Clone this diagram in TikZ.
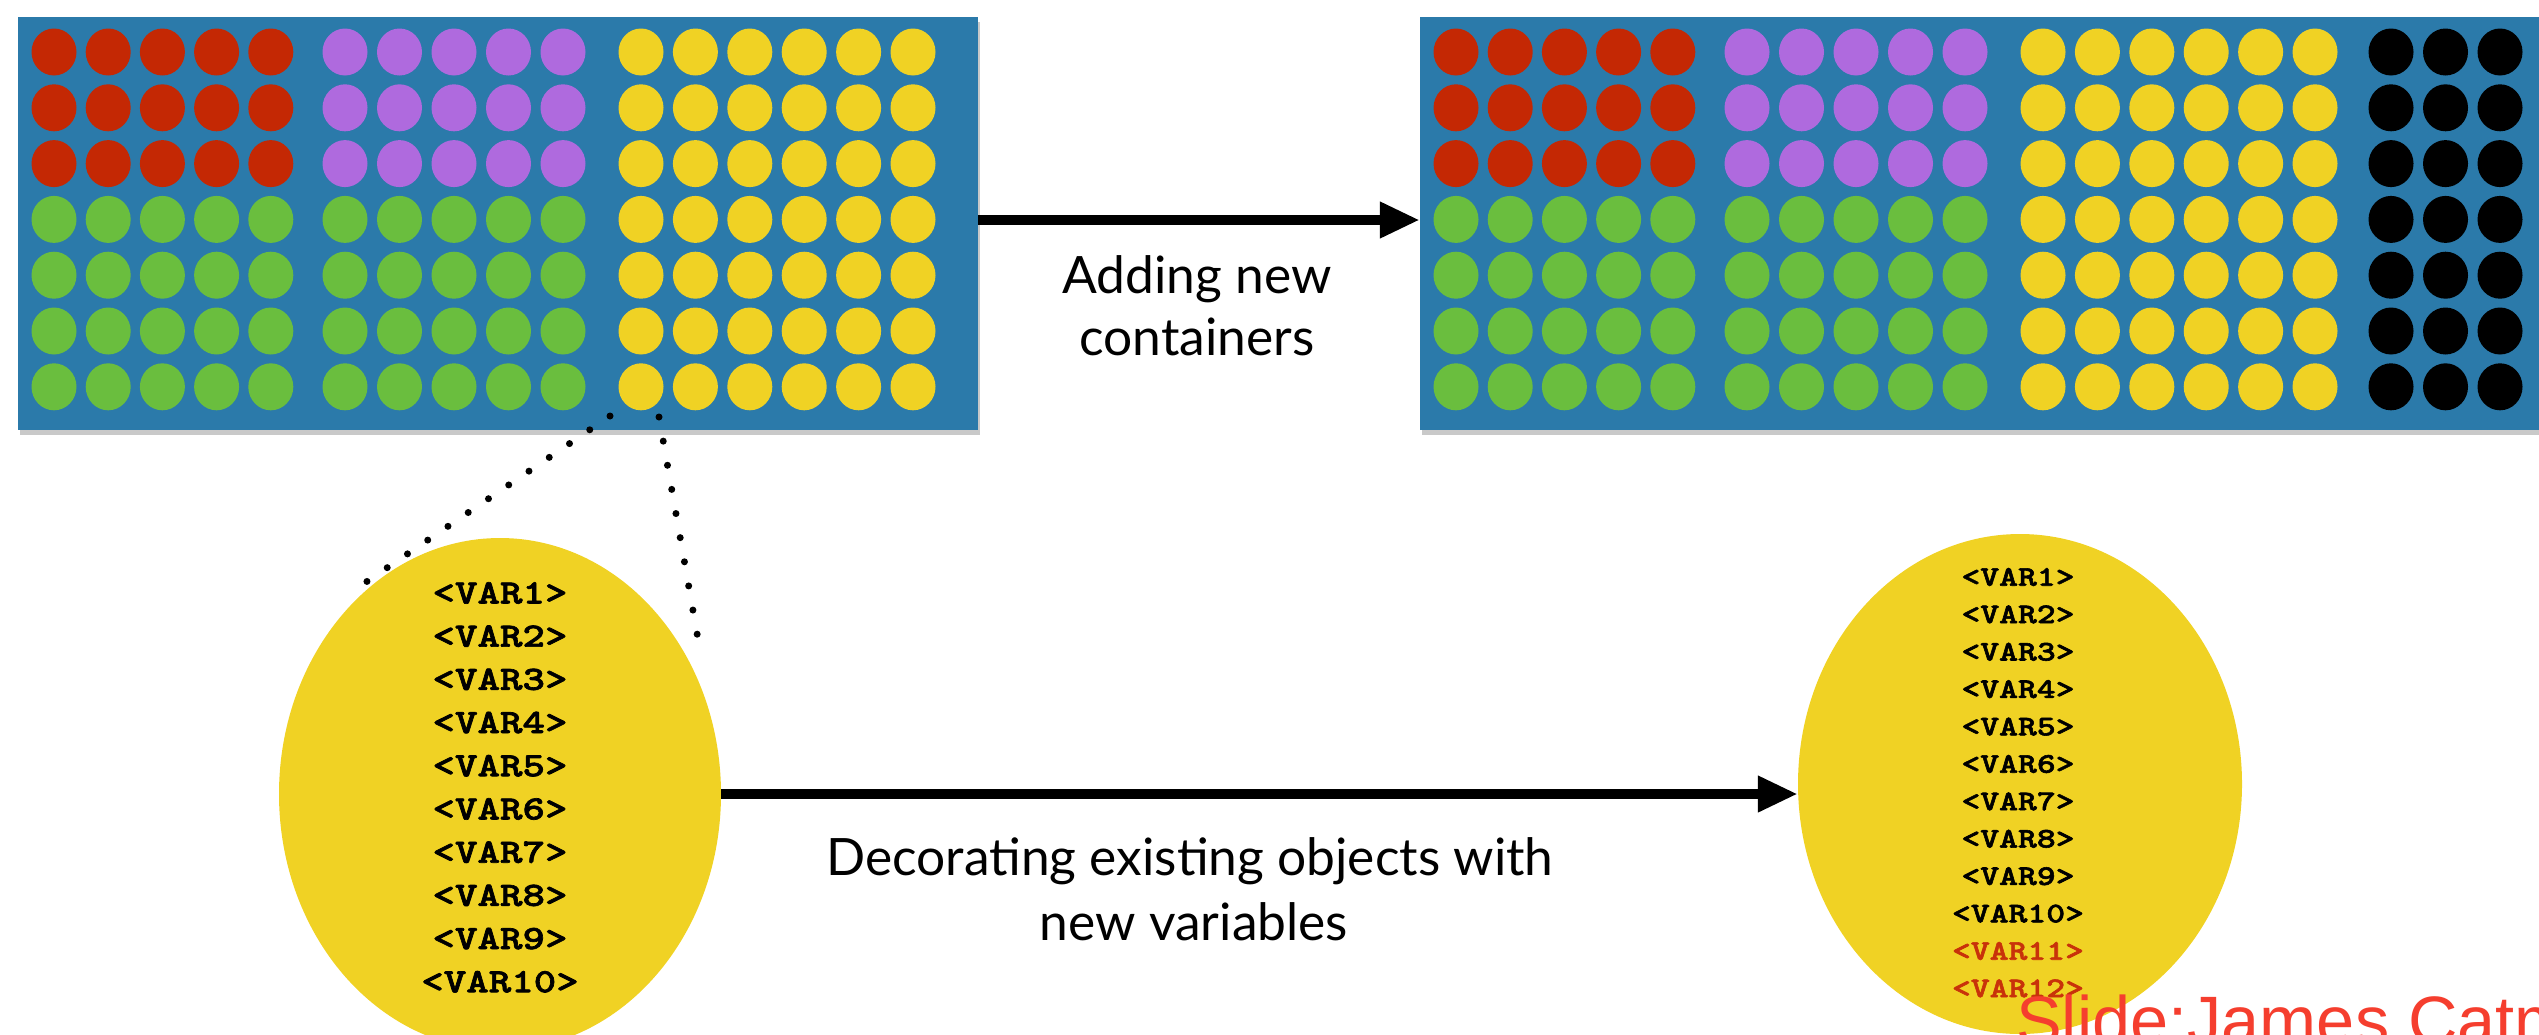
\documentclass[tikz,border=0pt]{standalone}
\usepackage{fontspec}
\setmainfont{Lato}
\newfontfamily\varfont{lmmonolt10-bold.otf}[FakeStretch=1.26, FakeBold=2]
\newfontfamily\creditfont{Liberation Sans}
\usetikzlibrary{arrows.meta,shapes.geometric,shadows}

\definecolor{panelblue}{RGB}{43,122,170}
\definecolor{dotred}{RGB}{196,40,4}
\definecolor{dotpurple}{RGB}{175,106,222}
\definecolor{dotgreen}{RGB}{106,190,62}
\definecolor{dotyellow}{RGB}{240,210,36}
\definecolor{newvar}{RGB}{200,50,10}
\definecolor{creditred}{RGB}{245,62,46}

\tikzset{
  panel/.style={rectangle, fill=panelblue, inner sep=0pt,
    drop shadow={shadow xshift=2pt, shadow yshift=-5pt, opacity=0.3, fill=black!70}},
  blob/.style={ellipse, fill=dotyellow, inner sep=0pt},
  bigarrow/.style={line width=10pt, -{Triangle[length=40pt,width=34pt]}},
  zoomline/.style={line width=7pt, line cap=round, dash pattern=on 0pt off 24.5pt},
  lbl/.style={inner sep=0pt, anchor=base, font=\fontsize{51.5}{60}\selectfont},
  varbig/.style={inner sep=0pt, font=\varfont\fontsize{34}{40}\selectfont},
  varsmall/.style={inner sep=0pt, font=\varfont\fontsize{28.5}{34}\selectfont},
  credit/.style={inner sep=0pt, anchor=base west, text=creditred,
    font=\creditfont\fontsize{68.5}{76}\selectfont},
}

\begin{document}
\begin{tikzpicture}[x=1pt, y=-1pt]
\useasboundingbox (0,0) rectangle (2539,1034);
\begin{scope}
\clip (0,0) rectangle (2539,1034);

% the two container panels
\node[panel, minimum width=960pt, minimum height=413pt] (lb) at (498,223.5) {};
\node[panel, minimum width=1160pt, minimum height=413pt] (rb) at (2000,223.5) {};

% objects inside each panel: same layout, offset by 1402
\foreach \ox in {0,1402} {
  \foreach \c in {0,...,4} {
    \foreach \r in {0,1,2} {
      \fill[dotred] (\ox+54+54.2*\c, 52+55.8*\r) ellipse (22.5 and 23.5);
      \fill[dotpurple] (\ox+345+54.5*\c, 52+55.8*\r) ellipse (22.5 and 23.5);
    }
    \foreach \r in {3,...,6} {
      \fill[dotgreen] (\ox+54+54.2*\c, 52+55.8*\r) ellipse (22.5 and 23.5);
      \fill[dotgreen] (\ox+345+54.5*\c, 52+55.8*\r) ellipse (22.5 and 23.5);
    }
  }
  \foreach \c in {0,...,5} {
    \foreach \r in {0,...,6} {
      \fill[dotyellow] (\ox+641+54.4*\c, 52+55.8*\r) ellipse (22.5 and 23.5);
    }
  }
}
% the new container column
\foreach \c in {0,1,2} {
  \foreach \r in {0,...,6} {
    \fill[black] (2391+54.5*\c, 52+55.8*\r) ellipse (22.5 and 23.5);
  }
}

% one object, enlarged, before and after decoration
\node[blob, minimum width=442pt, minimum height=512pt] (lc) at (500,794) {};
\node[blob, minimum width=444pt, minimum height=500pt] (rc) at (2020,784) {};

\foreach \i in {1,...,10} {
  \node[varbig] (lv\i) at (500, 593+43.2*\i-43.2) {<VAR\i>};
}
\foreach \i in {1,...,10} {
  \node[varsmall] (rv\i) at (2018, 577+37.4*\i-37.4) {<VAR\i>};
}
\node[varsmall, text=newvar] (rv11) at (2018, 577+37.4*10) {<VAR11>};
\node[varsmall, text=newvar] (rv12) at (2018, 577+37.4*11) {<VAR12>};

% zoom lines from one object to its enlarged view
\coordinate (zl0) at (610,416);
\coordinate (zl1) at (350,593);
\coordinate (zr0) at (659,417);
\coordinate (zr1) at (701,656);
\draw[zoomline] (zl0) -- (zl1);
\draw[zoomline] (zr0) -- (zr1);

% transitions
\draw[bigarrow] ([yshift=3.5pt]lb.east) -- ([yshift=3.5pt]lb.east -| rb.west);
\draw[bigarrow] (lc.east) -- (lc.east -| rc.west);

\node[lbl] (addA) at (1197,293) {Adding new};
\node[lbl] (addB) at (1197,355) {containers};
\node[lbl] (decA) at (1190,875) {Decorating existing objects with};
\node[lbl] (decB) at (1194,940) {new variables};

\node[credit] (credit) at (2016,1044) {Slide:James Catm};
\end{scope}
\end{tikzpicture}
\end{document}
